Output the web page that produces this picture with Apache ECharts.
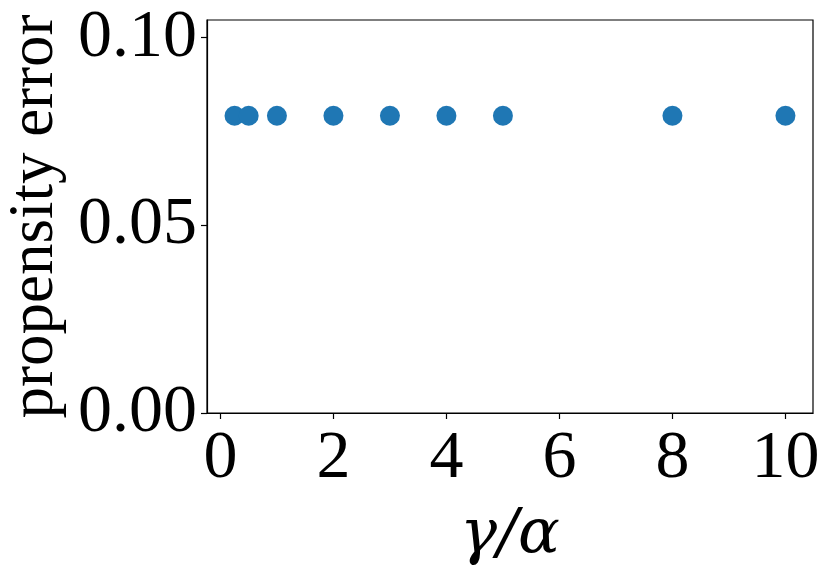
<!DOCTYPE html>
<html>
<head>
<meta charset="utf-8">
<script src="https://cdn.jsdelivr.net/npm/echarts@6/dist/echarts.min.js"></script>
<style>
  html, body { margin: 0; padding: 0; background: #fff; }
  #chart { width: 831px; height: 574px; }
</style>
</head>
<body>
<div id="chart"></div>
<script>
// gamma/alpha ratios and the measured propensity error
const ratios = [0.25, 0.5, 1, 2, 3, 4, 5, 8, 10];
const errors = [0.0792, 0.0792, 0.0792, 0.0792, 0.0792, 0.0792, 0.0792, 0.0792, 0.0792];
const xTicks = [0, 2, 4, 6, 8, 10];
const yTicks = [0, 0.05, 0.10];

const serif = '"Liberation Serif", "DejaVu Serif", serif';

const chart = echarts.init(document.getElementById('chart'));
chart.setOption({
  backgroundColor: '#fff',
  animation: false,
  grid: { left: 207, right: 18, top: 20, bottom: 161, outerBoundsMode: 'none', containLabel: false },
  xAxis: {
    type: 'value',
    min: -0.2375,
    max: 10.4875,
    name: 'γ/α',
    nameLocation: 'middle',
    nameGap: 92,
    nameTextStyle: { fontFamily: '"DejaVu Serif", serif', fontStyle: 'italic', fontSize: 62, color: '#000' },
    axisLine: { show: true, onZero: false, lineStyle: { color: '#000', width: 1.2 } },
    axisTick: { show: true, length: 6, customValues: xTicks, lineStyle: { color: '#000', width: 1.2 } },
    axisLabel: { customValues: xTicks, fontFamily: serif, fontSize: 68, color: '#000', margin: 12 },
    splitLine: { show: false }
  },
  yAxis: {
    type: 'value',
    min: 0,
    max: 0.1047,
    name: 'propensity error',
    nameLocation: 'middle',
    nameRotate: 90,
    nameGap: 126,
    nameTextStyle: { fontFamily: serif, fontSize: 63, color: '#000' },
    axisLine: { show: true, onZero: false, lineStyle: { color: '#000', width: 1.2 } },
    axisTick: { show: true, length: 6, customValues: yTicks, lineStyle: { color: '#000', width: 1.2 } },
    axisLabel: {
      customValues: yTicks, fontFamily: serif, fontSize: 68, color: '#000', margin: 10,
      formatter: v => v.toFixed(2)
    },
    splitLine: { show: false }
  },
  series: [{
    type: 'scatter',
    data: ratios.map((r, i) => [r, errors[i]]),
    symbolSize: 20,
    itemStyle: { color: '#1f77b4', opacity: 1 }
  }],
  graphic: [{
    type: 'rect',
    shape: { x: 207, y: 20, width: 606, height: 393 },
    style: { fill: 'none', stroke: '#000', lineWidth: 1.2 },
    silent: true
  }]
});
</script>
</body>
</html>
